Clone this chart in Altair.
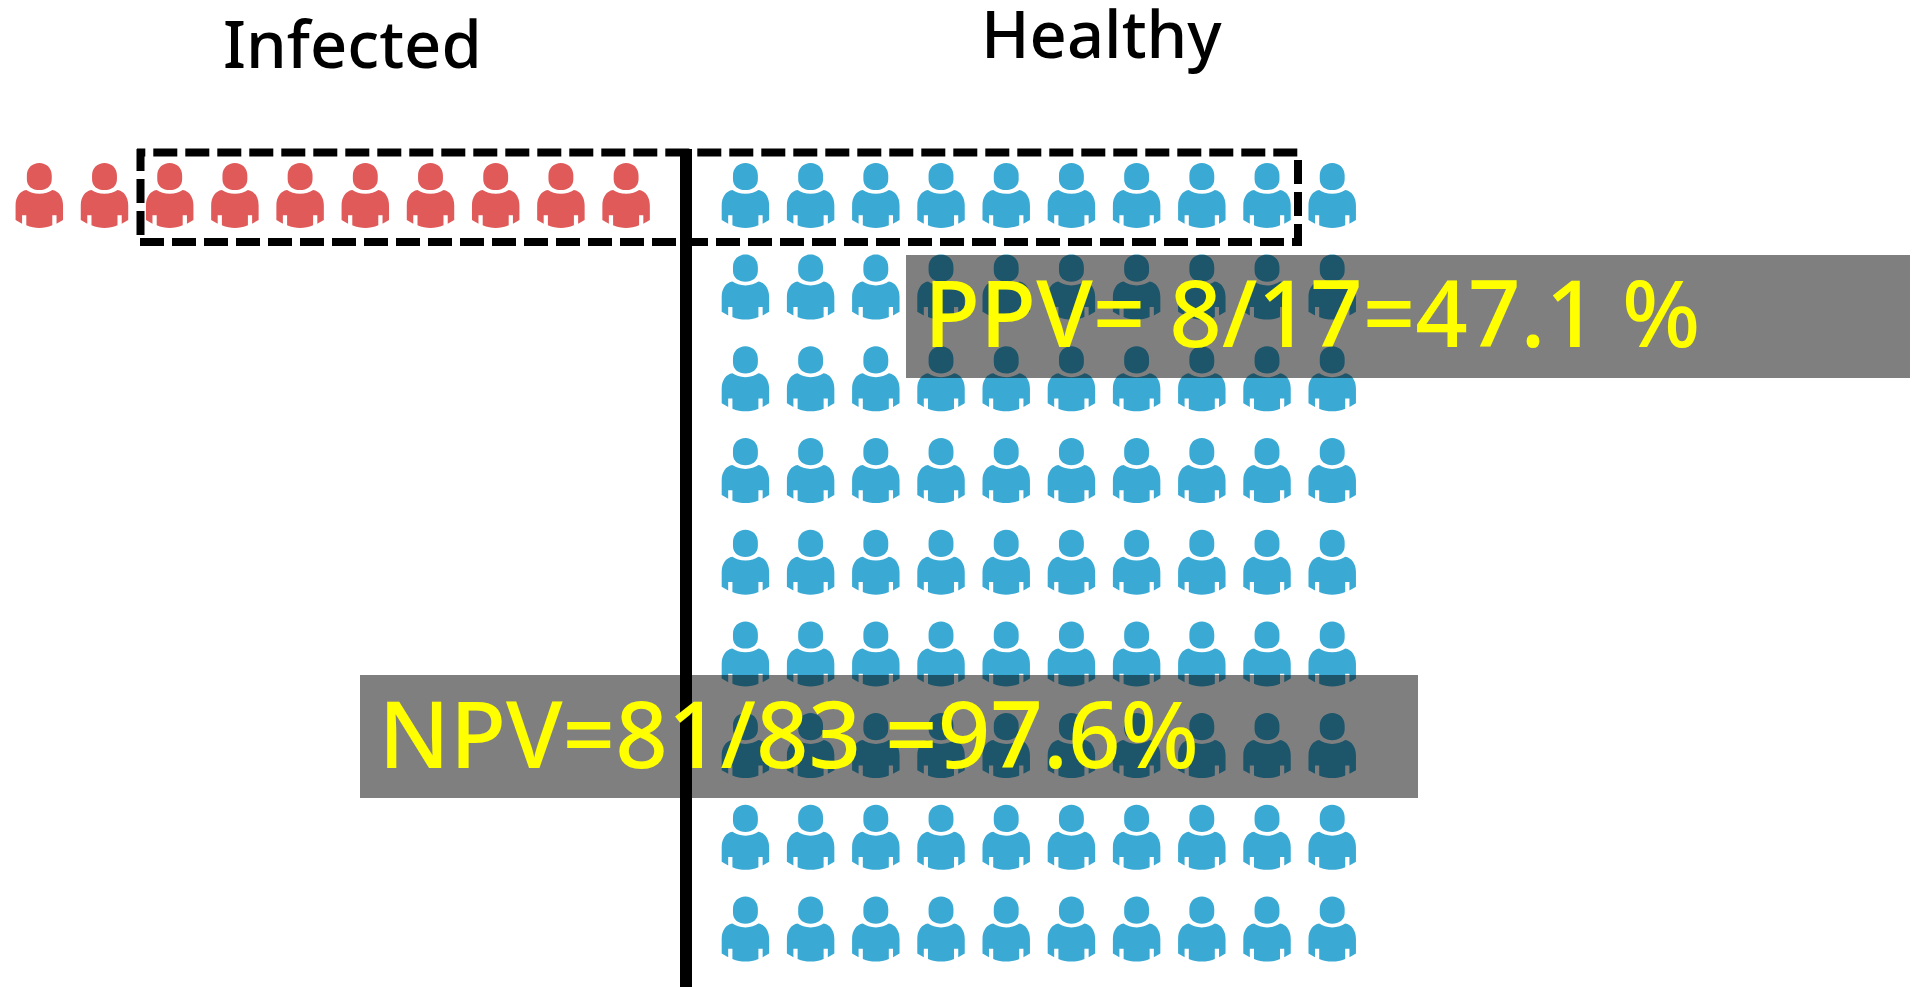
import altair as alt
import pandas as pd

# --- data ---
red_columns = list(range(10))
blue_columns = list(range(10))
blue_rows = list(range(9))
heading_labels = ["Infected", "Healthy"]
result_labels = ["PPV= 8/17=47.1 %", "NPV=81/83 =97.6%"]

# --- layout helpers (reference pixels; page margin is 8px) ---
M = 8
W, H = 1902, 979
X0, XSTEP = 39.3, 65.2
Y0, YSTEP = 195.4, 91.7
GROUP_GAP = 10.83
RED, BLUE = "#e05a5a", "#3aaad4"
PERSON = (
    "M-.383,-.62 C-.383,-.85 -.21,-1 0,-1 C.21,-1 .383,-.85 .383,-.62 L.383,-.5 "
    "C.383,-.28 .21,-.163 0,-.163 C-.21,-.163 -.383,-.28 -.383,-.5 Z "
    "M0,-.05 C.16,-.05 .3,-.1 .4,-.17 C.6,-.14 .73,.05 .73,.3 L.73,.755 L.53,.87 "
    "L.53,.61 L.40,.61 L.40,.92 C.27,.98 .13,1 0,1 C-.13,1 -.27,.98 -.4,.92 L-.4,.61 "
    "L-.53,.61 L-.53,.87 L-.73,.755 L-.73,.3 C-.73,.05 -.6,-.14 -.4,-.17 "
    "C-.3,-.1 -.16,-.05 0,-.05 Z"
)


def px(v):
    return alt.value(v - M)


rows = [{"slot": c, "row": 0, "group": "Infected"} for c in red_columns]
rows += [
    {"slot": c + GROUP_GAP, "row": r, "group": "Healthy"}
    for r in blue_rows
    for c in blue_columns
]
people_df = pd.DataFrame(rows)

x_scale = alt.Scale(domain=[(M - X0) / XSTEP, (M + W - X0) / XSTEP], nice=False, zero=False)
y_scale = alt.Scale(domain=[(M - Y0) / YSTEP, (M + H - Y0) / YSTEP], nice=False, zero=False, reverse=True)

people = alt.Chart(people_df).mark_point(
    shape=PERSON, size=4225, filled=True, opacity=1, strokeWidth=0
).encode(
    x=alt.X("slot:Q", scale=x_scale, axis=None),
    y=alt.Y("row:Q", scale=y_scale, axis=None),
    color=alt.Color(
        "group:N",
        scale=alt.Scale(domain=["Infected", "Healthy"], range=[RED, BLUE]),
        legend=None,
    ),
)


def hdash(x1, x2, y, offset):
    return alt.Chart().mark_rule(
        color="black", strokeWidth=8, strokeDash=[24, 8], strokeDashOffset=offset
    ).encode(x=px(x1), x2=px(x2), y=px(y))


def vdash(x, y1, y2, offset):
    return alt.Chart().mark_rule(
        color="black", strokeWidth=8, strokeDash=[24, 8], strokeDashOffset=offset
    ).encode(x=px(x), y=px(y1), y2=px(y2))


dashes = [
    hdash(137, 1297.5, 152.5, 15.7),
    hdash(140, 1302, 242, 0),
    vdash(140.5, 149, 235, 2),
    vdash(1298, 160, 246, 0),
]

divider = alt.Chart().mark_rule(color="black", strokeWidth=12).encode(
    x=px(686), y=px(149), y2=px(987)
)


def band(x1, x2, y1, y2):
    return alt.Chart().mark_rect(color="black", opacity=0.5).encode(
        x=px(x1), x2=px(x2), y=px(y1), y2=px(y2)
    )


def label(text, x, y, size, color, font, weight=400):
    return alt.Chart().mark_text(
        font=font, fontSize=size, fontWeight=weight, color=color,
        align="left", baseline="alphabetic"
    ).encode(x=px(x), y=px(y), text=alt.value(text))


chart = alt.layer(
    people,
    *dashes,
    divider,
    band(906, 1910, 255, 378),
    band(360, 1418, 675, 798),
    label(heading_labels[0], 223, 68, 65, "black", "Noto Sans", 500),
    label(heading_labels[1], 981, 58, 65, "black", "Noto Sans", 500),
    label(result_labels[0], 924, 347, 92, "#ffff00", "Noto Sans", 500),
    label(result_labels[1], 378.5, 768, 92, "#ffff00", "Noto Sans", 500),
).properties(
    width=W,
    height=H,
    padding=0,
    autosize=alt.AutoSizeParams(type="none"),
    background="white",
).configure_view(stroke=None)

chart.save("out.html", embed_options={"renderer": "svg", "actions": False})
